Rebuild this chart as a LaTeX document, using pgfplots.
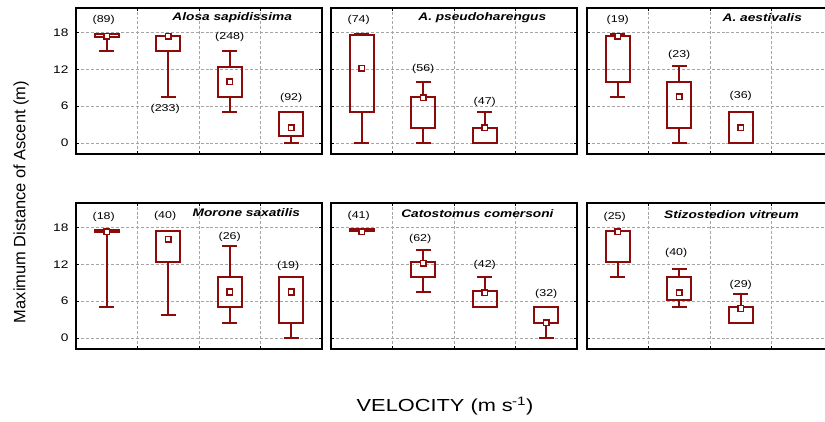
\documentclass[border=0pt]{standalone}
\usepackage{pgfplots}
\pgfplotsset{compat=1.18}
\usepgfplotslibrary{statistics}
\usepackage{fontspec}
\setmainfont{Liberation Sans}
\newfontfamily\wide[FakeStretch=1.25]{Liberation Sans}
\definecolor{boxred}{RGB}{140,10,10}

% one box: position, lower whisker, lower quartile, median, upper quartile, upper whisker
\newcommand\bx[6]{%
  \addplot[boxred, line width=1.9bp,
    boxplot prepared={draw direction=y, draw position=#1,
      lower whisker=#2, lower quartile=#3,
      median=#4, upper quartile=#5, upper whisker=#6,
      box extend=0.39, whisker extend=0.24}] coordinates {};}

\pgfplotsset{
  panel/.style={
    width=246bp, height=146bp, scale only axis, anchor=south west,
    xmin=1, xmax=5, ymin=-1.8, ymax=22,
    axis line style={line width=1.8bp},
    xtick={1.5,2.5,3.5,4.5}, xticklabels={1.5,2.5,3.5,4.5},
    minor xtick={2,3,4}, xminorgrids=true, xmajorticks=false,
    ytick={0,6,12,18}, yticklabels={0,6,12,18},
    ymajorgrids=true,
    grid style={densely dashed, black!35, line width=0.9bp},
    minor grid style={densely dashed, black!35, line width=0.9bp},
    tick align=inside,
    major tick length=3bp, minor tick length=3bp,
    tick style={black, line width=0.8bp},
    ticklabel style={font=\wide\fontsize{11}{13}\selectfont},
    xticklabel style={yshift=-3bp},
    yticklabel style={xshift=-4bp},
    boxplot/draw/median/.code={},
    boxplot/every box/.style={draw=boxred, line width=1.9bp},
    boxplot/every whisker/.style={draw=boxred, line width=1.9bp},
    clip=false,
  },
  nolabels/.style={yticklabels={}},
  med/.style={only marks, mark=square*, mark size=2.8bp,
    mark options={fill=white, draw=boxred, line width=1.5bp}},
}
\tikzset{
  cnt/.style={font=\wide\fontsize{10}{12}\selectfont, inner sep=0pt},
  ttl/.style={font=\wide\fontsize{11}{13}\selectfont\bfseries\itshape, inner sep=0pt},
}

\begin{document}
\begin{tikzpicture}[x=1bp, y=1bp]
\path[use as bounding box] (0,0) rectangle (825,421);

% ---- top row ----
\begin{axis}[panel, at={(76bp,267bp)}]
  \bx{1.5}{15}{17.3}{17.4}{17.7}{17.7}
  \bx{2.5}{7.5}{15}{17.4}{17.5}{17.5}
  \bx{3.5}{5}{7.5}{10}{12.4}{15}
  \bx{4.5}{0}{1.2}{2.5}{5}{5}
  \addplot[med] coordinates {(1.5,17.4) (2.5,17.4) (3.5,10) (4.5,2.5)};
  \node[cnt] at (axis cs:1.45,20.0) {(89)};
  \node[cnt] at (axis cs:2.45,5.5) {(233)};
  \node[cnt] at (axis cs:3.5,17.3) {(248)};
  \node[cnt] at (axis cs:4.5,7.4) {(92)};
  \node[ttl] at (axis cs:3.54,20.4) {Alosa sapidissima};
\end{axis}

\begin{axis}[panel, nolabels, at={(331bp,267bp)}]
  \bx{1.5}{0}{5}{12.2}{17.6}{17.7}
  \bx{2.5}{0}{2.5}{7.4}{7.5}{10}
  \bx{3.5}{0}{0}{2.5}{2.5}{5}
  \addplot[med] coordinates {(1.5,12.2) (2.5,7.4) (3.5,2.5)};
  \node[cnt] at (axis cs:1.45,20.0) {(74)};
  \node[cnt] at (axis cs:2.5,12.1) {(56)};
  \node[cnt] at (axis cs:3.5,6.7) {(47)};
  \node[ttl] at (axis cs:3.46,20.4) {A. pseudoharengus};
\end{axis}

\begin{axis}[panel, nolabels, at={(587bp,267bp)}]
  \bx{1.5}{7.5}{10}{17.4}{17.5}{17.7}
  \bx{2.5}{0}{2.5}{7.5}{10}{12.5}
  \bx{3.5}{0}{0}{2.5}{5}{5}
  \addplot[med] coordinates {(1.5,17.4) (2.5,7.5) (3.5,2.5)};
  \node[cnt] at (axis cs:1.5,20.0) {(19)};
  \node[cnt] at (axis cs:2.5,14.4) {(23)};
  \node[cnt] at (axis cs:3.5,7.7) {(36)};
  \node[ttl] at (axis cs:3.85,20.4) {A. aestivalis};
\end{axis}

% ---- bottom row ----
\begin{axis}[panel, at={(76bp,72bp)}]
  \bx{1.5}{5}{17.2}{17.3}{17.6}{17.6}
  \bx{2.5}{3.7}{12.4}{16.1}{17.5}{17.5}
  \bx{3.5}{2.5}{5}{7.5}{10}{15}
  \bx{4.5}{0}{2.5}{7.5}{10}{10}
  \addplot[med] coordinates {(1.5,17.3) (2.5,16.1) (3.5,7.5) (4.5,7.5)};
  \node[cnt] at (axis cs:1.45,19.7) {(18)};
  \node[cnt] at (axis cs:2.45,19.9) {(40)};
  \node[cnt] at (axis cs:3.5,16.5) {(26)};
  \node[cnt] at (axis cs:4.45,11.7) {(19)};
  \node[ttl] at (axis cs:3.77,20.5) {Morone saxatilis};
\end{axis}

\begin{axis}[panel, nolabels, at={(331bp,72bp)}]
  \bx{1.5}{17.5}{17.5}{17.3}{17.7}{17.7}
  \bx{2.5}{7.5}{10}{12.2}{12.4}{14.3}
  \bx{3.5}{5}{5}{7.4}{7.6}{10}
  \bx{4.5}{0}{2.5}{2.5}{5}{5}
  \addplot[med] coordinates {(1.5,17.3) (2.5,12.2) (3.5,7.4) (4.5,2.5)};
  \node[cnt] at (axis cs:1.45,19.9) {(41)};
  \node[cnt] at (axis cs:2.45,16.1) {(62)};
  \node[cnt] at (axis cs:3.5,11.9) {(42)};
  \node[cnt] at (axis cs:4.5,7.2) {(32)};
  \node[ttl] at (axis cs:3.38,20.3) {Catostomus comersoni};
\end{axis}

\begin{axis}[panel, nolabels, at={(587bp,72bp)}]
  \bx{1.5}{10}{12.4}{17.3}{17.5}{17.5}
  \bx{2.5}{5}{6.2}{7.4}{10}{11.2}
  \bx{3.5}{2.5}{2.5}{4.8}{5}{7.1}
  \addplot[med] coordinates {(1.5,17.3) (2.5,7.4) (3.5,4.8)};
  \node[cnt] at (axis cs:1.45,19.7) {(25)};
  \node[cnt] at (axis cs:2.45,13.8) {(40)};
  \node[cnt] at (axis cs:3.5,8.6) {(29)};
  \node[ttl] at (axis cs:3.35,20.1) {Stizostedion vitreum};
\end{axis}

% shared axis titles
\node[rotate=90, font=\fontsize{16.5}{19}\selectfont, inner sep=0pt]
  at (21,219) {Maximum Distance of Ascent (m)};
\node[font=\wide\fontsize{17.5}{20}\selectfont, inner sep=0pt]
  at (445,15) {VELOCITY (m s\kern-0.05em\textsuperscript{-1})};
\end{tikzpicture}
\end{document}
